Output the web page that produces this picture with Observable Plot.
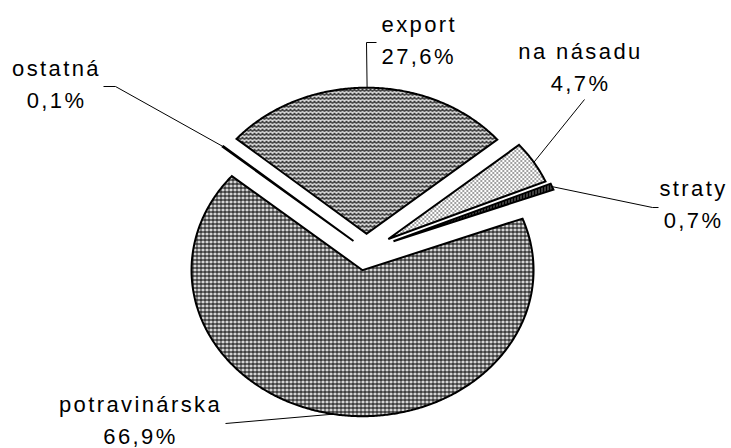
<!DOCTYPE html>
<html><head><meta charset="utf-8">
<script src="https://cdn.jsdelivr.net/npm/d3@7"></script>
<script src="https://cdn.jsdelivr.net/npm/@observablehq/plot@0.6"></script>
<style>html,body{margin:0;padding:0;background:#fff;} #chart svg{display:block}</style>
</head><body>
<svg width="0" height="0" style="position:absolute">
<defs>
  <pattern id="pat-export" width="4" height="4" patternUnits="userSpaceOnUse">
    <rect width="4" height="4" fill="#fff"/>
    <path d="M0,3.2 L1,2 L2,0.8 L3,2 L4,3.2" fill="none" stroke="#000" stroke-width="1.2"/>
  </pattern>
  <pattern id="pat-nasadu" width="4" height="4" patternUnits="userSpaceOnUse">
    <rect width="4" height="4" fill="#fff"/>
    <rect x="0" y="0" width="1.5" height="1" fill="#000"/>
    <rect x="2" y="2" width="1.5" height="1" fill="#000"/>
  </pattern>
  <pattern id="pat-straty" width="3" height="2" patternUnits="userSpaceOnUse">
    <rect width="3" height="2" fill="#000"/>
    <rect x="1" y="0" width="1" height="1" fill="#fff"/>
  </pattern>
  <pattern id="pat-potrav" width="4" height="4" patternUnits="userSpaceOnUse">
    <rect width="4" height="4" fill="#fff"/>
    <rect x="2" y="0" width="1" height="4" fill="#aaa"/>
    <rect x="0" y="0" width="1" height="4" fill="#000"/>
    <rect x="0" y="3" width="4" height="1" fill="#000"/>
  </pattern>
  <pattern id="pat-ostatna" width="2" height="2" patternUnits="userSpaceOnUse">
    <rect width="2" height="2" fill="#888"/>
  </pattern>
</defs></svg>
<div id="chart"></div>
<script>
// ---- data ----
const categories = ["export", "na násadu", "straty", "potravinárska", "ostatná"];
const shares = [27.6, 4.7, 0.7, 66.9, 0.1];
const valueLabels = ["27,6%", "4,7%", "0,7%", "66,9%", "0,1%"];

// ---- styling / layout ----
const patterns = ["url(#pat-export)", "url(#pat-nasadu)", "url(#pat-straty)", "url(#pat-potrav)", "url(#pat-ostatna)"];
const explode = [0.115, 0.15, 0.17, 0.137, 0.10];
const W = 731, H = 448;
const CX = 366, CY = 250, RX = 171, RY = 146;   // pie centre and radii (px)
const START = -49.5;                           // first slice start angle, degrees clockwise from 12 o'clock
const X = px => (px - CX) / RX;                 // pixel -> pie units
const Y = py => (CY - py) / RY;

const labelLayout = [
  {x: 381, y: 63, anchor: "start"},
  {x: 580, y: 90, anchor: "middle"},
  {x: 693, y: 227, anchor: "middle"},
  {x: 140, y: 443, anchor: "middle"},
  {x: 56, y: 107, anchor: "middle"}
];
const leaderLayout = [
  [[366, 42], [376, 42]],
  [[584, 99]],
  [[652, 207], [658, 207]],
  [[225, 423]],
  [[115, 86], [103, 86]]
];

// ---- geometry from data ----
const total = d3.sum(shares);
const slicePts = [], leaderPts = [], labels = [];
let acc = START;
categories.forEach((name, i) => {
  const span = shares[i] / total * 360;
  const a0 = acc, a1 = acc + span, mid = acc + span / 2;
  acc = a1;
  const rad = a => a * Math.PI / 180;
  const vx = explode[i] * Math.sin(rad(mid)), vy = explode[i] * Math.cos(rad(mid));
  const n = Math.max(2, Math.ceil(span / 0.5));
  const arc = d3.range(n + 1).map(k => {
    const a = rad(a0 + (a1 - a0) * k / n);
    return {x: vx + Math.sin(a), y: vy + Math.cos(a)};
  });
  const ring = [...arc, {x: vx, y: vy}, arc[0], arc[1]];
  ring.forEach(p => slicePts.push({name, fill: patterns[i], x: p.x, y: p.y}));
  const anchor = {x: vx + Math.sin(rad(mid)), y: vy + Math.cos(rad(mid))};
  leaderPts.push({name, x: anchor.x, y: anchor.y});
  leaderLayout[i].forEach(([px, py]) => leaderPts.push({name, x: X(px), y: Y(py)}));
  labels.push({name, text: name + "\n" + valueLabels[i], x: X(labelLayout[i].x), y: Y(labelLayout[i].y), anchor: labelLayout[i].anchor});
});

const font = {fontSize: 22, fontFamily: "Liberation Sans, Arial, sans-serif", fill: "#000", lineAnchor: "bottom", lineHeight: 1.43};

const chart = Plot.plot({
  width: W, height: H, margin: 0,
  x: {domain: [X(0), X(W)], axis: null},
  y: {domain: [Y(H), Y(0)], axis: null},
  color: {type: "identity"},
  style: {background: "#fff", letterSpacing: "2.4px"},
  marks: [
    Plot.line(slicePts, {x: "x", y: "y", z: "name", fill: "fill", stroke: "#000", strokeWidth: 2, strokeLinejoin: "miter", strokeLinecap: "butt", strokeMiterlimit: 3}),
    Plot.line(leaderPts, {x: "x", y: "y", z: "name", stroke: "#000", strokeWidth: 1, strokeLinejoin: "miter", strokeLinecap: "butt"}),
    Plot.text(labels.filter(d => d.anchor === "start"), {x: "x", y: "y", text: "text", textAnchor: "start", ...font}),
    Plot.text(labels.filter(d => d.anchor === "middle"), {x: "x", y: "y", text: "text", textAnchor: "middle", ...font})
  ]
});
document.getElementById("chart").appendChild(chart);
</script>
</body></html>
